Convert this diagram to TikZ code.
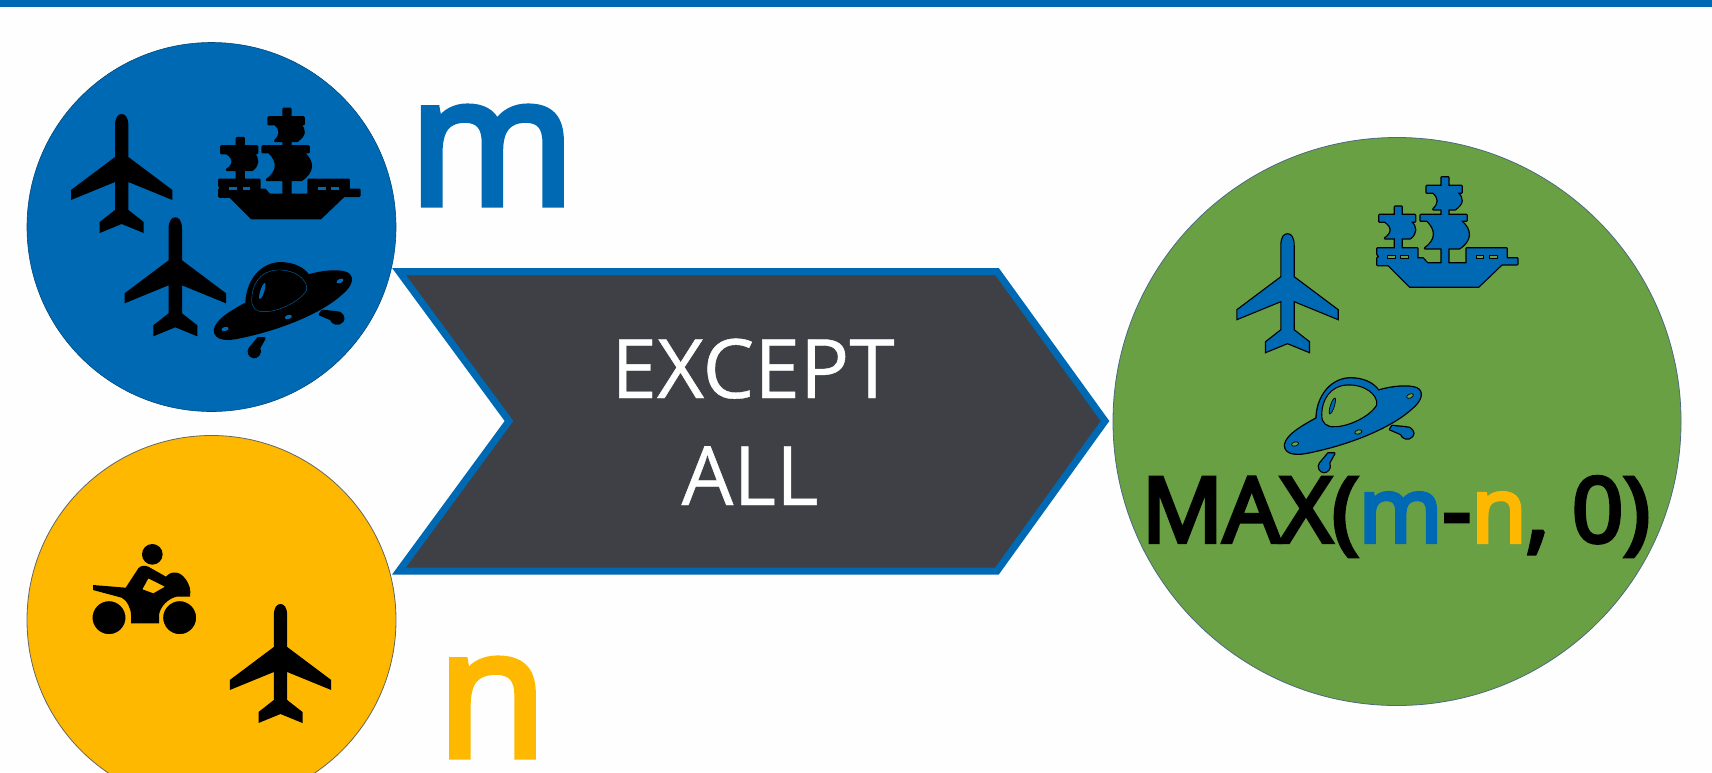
\documentclass[tikz,border=0pt]{standalone}
\usepackage{fontspec}
\setmainfont{Open Sans}
\newfontfamily\boldsans{Open Sans}[FakeBold=4]
\newfontfamily\formulasans{Open Sans}[FakeBold=4.5]
\newfontfamily\midsans{Open Sans}[FakeBold=0.5]
\definecolor{barblue}{RGB}{0,105,180}
\definecolor{setyellow}{RGB}{255,184,0}
\definecolor{setgreen}{RGB}{106,160,68}
\definecolor{chevron}{RGB}{63,64,69}
\newcommand{\planeicon}[2]{%
  \path[shift={(#1)},#2] (-6.7,12) .. controls (-6.7,3) and (-3.5,0) .. (0,0)
    .. controls (3.5,0) and (6.7,3) .. (6.7,12) -- (6.7,43) -- (50.7,76) -- (50.7,86)
    -- (6.7,68) -- (6.7,96) -- (22,108) -- (22,119) -- (0,110) -- (-22,119) -- (-22,108)
    -- (-6.7,96) -- (-6.7,68) -- (-50.7,86) -- (-50.7,76) -- (-6.7,43) -- cycle;}
\newcommand{\shippath}{%
  (22,235) -- (142,235) -- (142,265) -- (158,265) -- (172,280) -- (290,280) -- (290,235) -- (410,235)
  -- (410,265) -- (442,265) -- (442,283) -- (395,283) -- (325,350) -- (120,350) -- (55,285) -- (22,285)
  -- (22,265) -- (28,260) -- (22,252) -- cycle
  (75,110) -- (95,110) -- (95,240) -- (75,240) -- cycle
  (28,135) -- (135,135) -- (135,155) -- (28,155) -- cycle
  (95,155) -- (122,155) .. controls (140,170) and (140,190) .. (120,205) -- (95,205) -- cycle
  (45,155) -- (75,155) -- (75,205) -- (45,205) .. controls (68,190) and (68,170) .. (45,155) -- cycle
  (215,22) -- (235,22) -- (235,285) -- (215,285) -- cycle
  (170,48) -- (275,48) -- (275,68) -- (170,68) -- cycle
  (235,68) -- (262,68) .. controls (280,85) and (280,100) .. (255,118) -- (235,118) -- cycle
  (190,68) -- (215,68) -- (215,118) -- (190,118) .. controls (208,100) and (208,85) .. (190,68) -- cycle
  (152,135) -- (290,135) -- (290,152) -- (152,152) -- cycle
  (235,152) -- (272,152) .. controls (305,180) and (305,210) .. (268,235) -- (235,235) -- cycle
  (172,152) -- (215,152) -- (215,235) -- (165,235) .. controls (200,210) and (200,180) .. (172,152) -- cycle}
\newcommand{\shipicon}[3]{%
  \begin{scope}[shift={(#1)},scale=1/3]
    \draw[black,line width=2.6pt,line join=round] \shippath;
    \fill[#2,nonzero rule] \shippath;
    \foreach \wx in {52,92,318,358}{\path[#3] (\wx,255) rectangle ++(23,10);}
  \end{scope}}
\newcommand{\ufopath}{%
  (30,225) .. controls (35,195) and (80,170) .. (125,145)
  .. controls (125,90) and (160,28) .. (225,25)
  .. controls (265,25) and (295,40) .. (310,62)
  .. controls (350,50) and (400,45) .. (425,55)
  .. controls (445,65) and (440,90) .. (410,115)
  .. controls (350,170) and (230,220) .. (110,245)
  .. controls (70,255) and (30,255) .. (30,225) -- cycle
  (160,250) -- (178,250) -- (162,279) .. controls (170,295) and (155,307) .. (147,306)
  .. controls (135,306) and (127,290) .. (135,280) -- cycle
  (345,178) -- (352,168) -- (392,172) .. controls (410,170) and (420,190) .. (412,198)
  .. controls (400,212) and (382,205) .. (378,192) -- cycle}
\newcommand{\ufoicon}[5]{%
  \begin{scope}[shift={(#1)},scale=1/3]
    \draw[black,line width=2.6pt,line join=round] \ufopath;
    \fill[#2] \ufopath;
    \path[#3] (140,135) .. controls (140,90) and (165,48) .. (215,45)
      .. controls (270,42) and (310,75) .. (305,105) .. controls (285,140) and (220,170) .. (180,170)
      .. controls (155,172) and (140,160) .. (140,135) -- cycle;
    \path[#4] (172,108) ellipse [x radius=6,y radius=25,rotate=18];
    \path[#5] (60,222) ellipse [x radius=11,y radius=6,rotate=-15];
    \path[#5] (250,186) ellipse [x radius=11,y radius=6,rotate=-15];
    \path[#5] (405,78) ellipse [x radius=11,y radius=6,rotate=-25];
  \end{scope}}
\begin{document}
\begin{tikzpicture}[x=1pt,y=1pt,yscale=-1,
  bigtext/.style={inner sep=0pt,anchor=base,font=\fontsize{178pt}{178pt}\boldsans},
  arrowtext/.style={inner sep=0pt,anchor=base,text=white,font=\fontsize{82pt}{82pt}\midsans},
  blackicon/.style={fill=black},
  blueicon/.style={fill=barblue,draw=black,line width=1.1pt,line join=miter}]
\useasboundingbox (0,0) rectangle (1712,772);
\fill[white!99.6!black] (0,0) rectangle (1712,772);
\fill[barblue] (0,0) rectangle (1712,7);
% circles
\begin{scope}
\clip (0,0) rectangle (1712,772);
\node[circle,minimum size=369pt,inner sep=0pt,fill=barblue,draw=barblue!70!black,line width=0.6pt] (setm) at (211.5,227) {};
\node[circle,minimum size=369pt,inner sep=0pt,fill=setyellow,draw=black!60,line width=0.8pt] (setn) at (211.5,620) {};
\node[circle,minimum size=568pt,inner sep=0pt,fill=setgreen,draw=barblue!40!black!70,line width=0.8pt] (setr) at (1397,421.5) {};
\end{scope}
% chevron
\draw[fill=chevron,draw=barblue,line width=7pt,line join=miter,miter limit=10]
  (399,271.5) -- (997,271.5) -- (1105,421) -- (997,571) -- (399,571) -- (509,421) -- cycle;
\node[arrowtext] (except) at (753,398) {EXCEPT};
\node[arrowtext] (all) at (750,505) {ALL};
\node[bigtext,text=barblue] (mlabel) at (492,204) {m};
\node[bigtext,text=setyellow] (nlabel) at (492,756) {n};
% planes
\planeicon{121.7,114}{blackicon}
\planeicon{175.3,217.3}{blackicon}
\planeicon{280.5,604}{blackicon}
\planeicon{1287.5,233.7}{blueicon}
% ships
\shipicon{212,101.5}{black}{fill=barblue}
\shipicon{1370,170}{barblue}{fill=setgreen,draw=black,line width=0.9pt}
% ufos
\ufoicon{205,255}{black}{draw=barblue,line width=0.4pt}{fill=barblue}{fill=barblue}
\ufoicon{1275,370}{barblue}{fill=setgreen,draw=black,line width=1.1pt}{fill=barblue,draw=black,line width=0.7pt}{fill=setgreen,draw=black,line width=0.7pt}
% motorcycle
\begin{scope}[shift={(85,535)},scale=1/3]
  \fill[black] (202,58) circle (31);
  \fill[black,even odd rule] (24,150) -- (122,158) -- (160,100) .. controls (165,92) and (180,90) .. (190,95)
    -- (243,125) .. controls (260,105) and (285,110) .. (300,130) .. controls (315,150) and (318,165) .. (315,185)
    -- (275,185) .. controls (250,190) and (225,215) .. (222,240) -- (222,265) -- (138,265) -- (138,240)
    .. controls (138,220) and (125,195) .. (110,188) -- (24,165) -- cycle
    (190,130) -- (240,155) -- (205,175) -- (172,163) -- cycle;
  \fill[black,draw=setyellow,line width=1.6pt] (72,248) circle (52) (284,248) circle (52);
\end{scope}
% formula
\node[inner sep=0pt,anchor=base,font=\fontsize{90pt}{90pt}\formulasans] (formula) at (1396,542)
  {MAX(\textcolor{barblue}{m}-\textcolor{setyellow}{n}, 0)};
\end{tikzpicture}
\end{document}
